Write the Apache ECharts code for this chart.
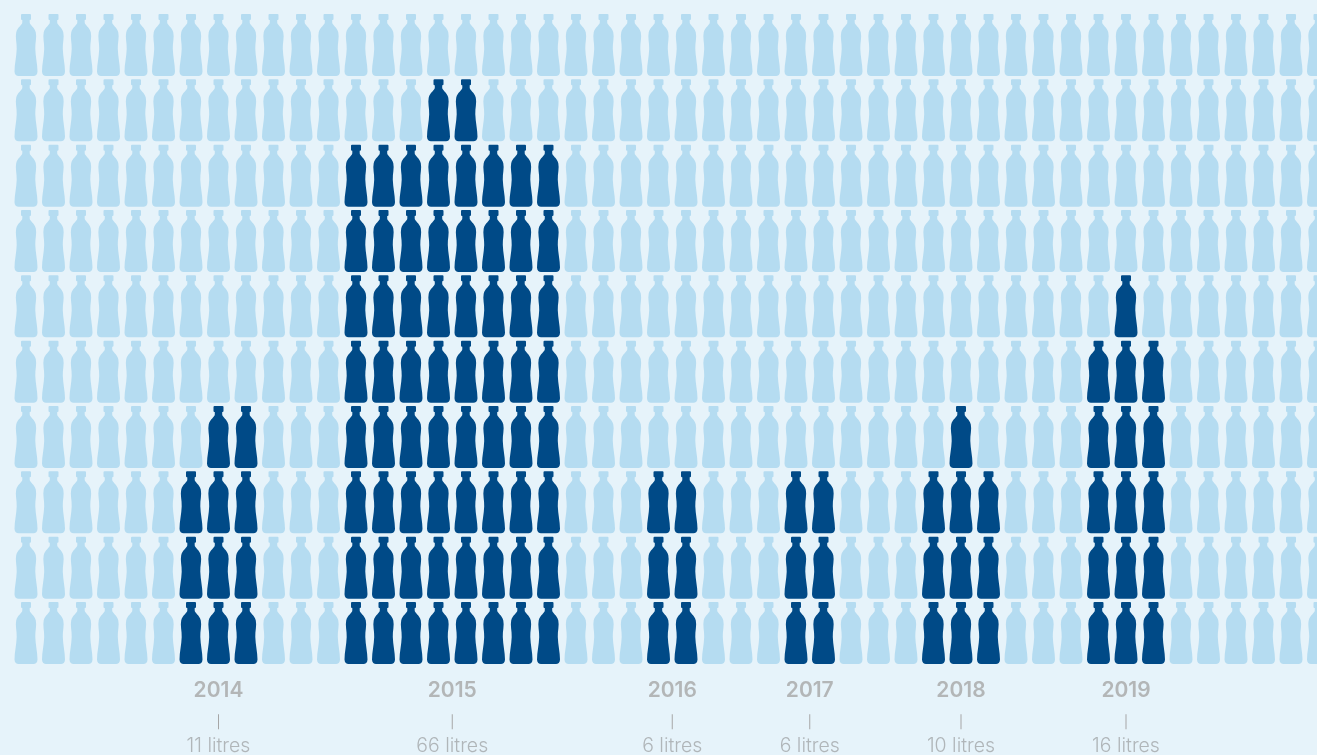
<!DOCTYPE html>
<html>
<head>
<meta charset="utf-8">
<style>html,body{margin:0;padding:0;background:#e6f3fa;overflow:hidden}#c{width:1317px;height:755px}</style>
<script src="https://cdn.jsdelivr.net/npm/echarts@6/dist/echarts.min.js"></script>
</head>
<body>
<div id="c"></div>
<script>
const years = ['2014', '2015', '2016', '2017', '2018', '2019'];
const litres = [11, 66, 6, 6, 10, 16];
const labelColumns = [7, 15.5, 23.5, 28.5, 34, 40];
const rowCount = 10;
const filledPerColumn = [
  0,0,0,0,0,0, 3,4,4, 0,0,0,
  8,8,8,9,9,8,8,8, 0,0,0,
  3,3, 0,0,0,
  3,3, 0,0,0,
  3,4,3, 0,0,0,
  5,6,5, 0,0,0,0,0,0
];
const bottle = 'path://M7.5 0H15.5Q16.5 0 16.5 1V5Q16.5 6 15.5 6H15.2V8.5C15.2 11 20 13 21.3 18.5C22.4 23.5 20.6 29 20.8 35C21 43 23 50 23 57.5C23 60.5 21 62 19 62H4C2 62 0 60.5 0 57.5C0 50 2 43 2.2 35C2.4 29 .6 23.5 1.7 18.5C3 13 7.8 11 7.8 8.5V6H7.5Q6.5 6 6.5 5V1Q6.5 0 7.5 0Z';

const light = [], dark = [];
filledPerColumn.forEach((n, col) => {
  for (let row = 0; row < rowCount; row++) (row < n ? dark : light).push([col, row]);
});

const bottleSeries = (data, color) => ({
  type: 'scatter', data, symbol: bottle, symbolSize: [23, 62], clip: false, silent: true,
  itemStyle: { color, opacity: 1 }
});
const textSeries = (y, fmt, style) => ({
  type: 'scatter', clip: false, silent: true, symbolSize: 0,
  data: labelColumns.map((c, i) => ({ value: [c, y], text: fmt(i) })),
  label: Object.assign({ show: true, position: 'inside', formatter: p => p.data.text }, style)
});

const chart = echarts.init(document.getElementById('c'), null, { renderer: 'canvas' });
chart.setOption({
  animation: false,
  backgroundColor: '#e6f3fa',
  grid: { left: 0, right: 0, top: 45, bottom: 122 },
  xAxis: { type: 'value', min: -26 / 27.5, max: 1291 / 27.5, show: false },
  yAxis: { type: 'value', min: 0, max: 9, show: false },
  series: [
    bottleSeries(light, '#b5dcf1'),
    bottleSeries(dark, '#004a87'),
    textSeries(-0.89, i => years[i], { fontFamily: 'Inter', fontWeight: 600, fontSize: 21, color: '#a6a6a6' }),
    {
      type: 'scatter', clip: false, silent: true, symbol: 'rect', symbolSize: [1, 15],
      itemStyle: { color: '#a6a6a6', opacity: 1 },
      data: labelColumns.map(c => [c, -1.36])
    },
    textSeries(-1.735, i => litres[i] + ' litres', { fontFamily: 'Inter', fontWeight: 300, fontSize: 19.5, color: '#a2a6a9' })
  ]
});
</script>
</body>
</html>
